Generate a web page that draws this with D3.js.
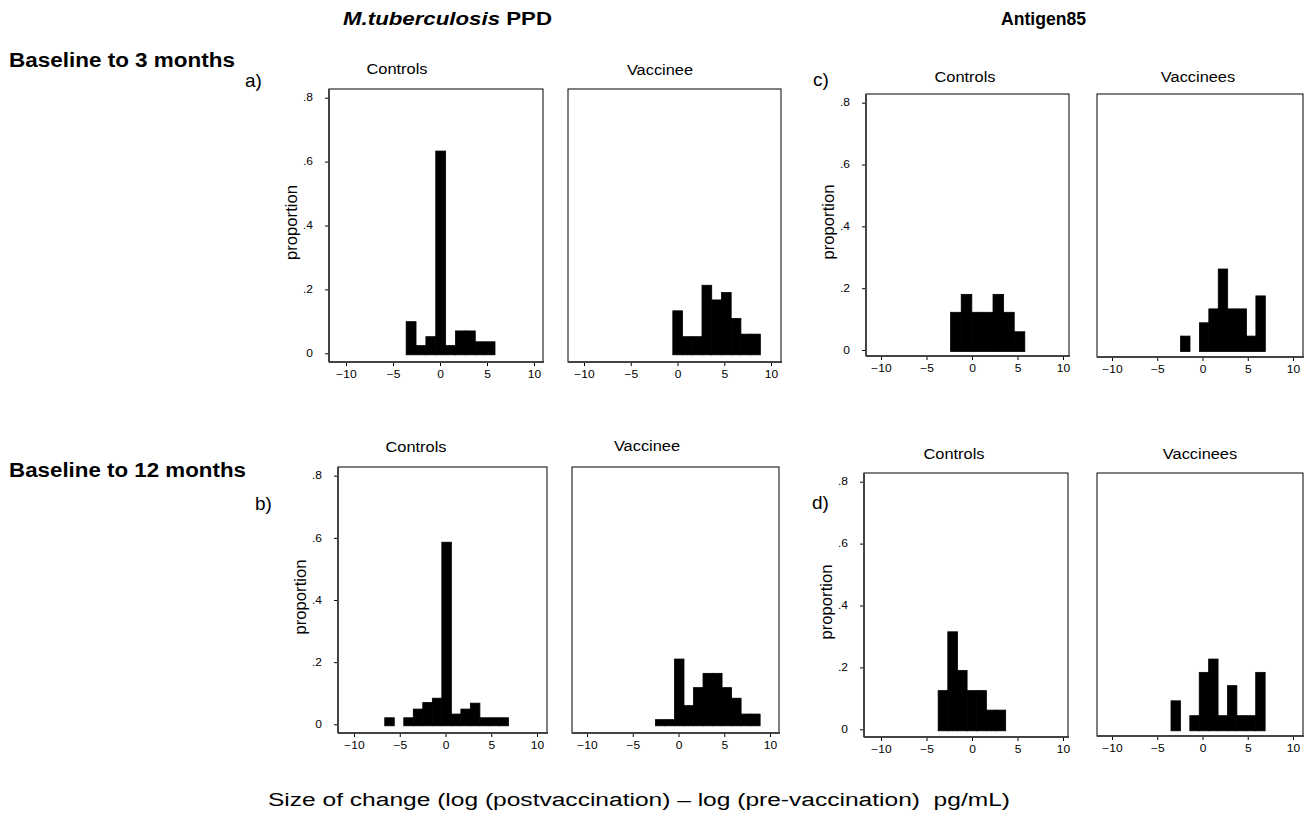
<!DOCTYPE html>
<html>
<head>
<meta charset="utf-8">
<script src="https://cdn.jsdelivr.net/npm/d3@7"></script>
<style>
  body { margin: 0; background: #fff; }
  text { font-family: "Liberation Sans", Arial, sans-serif; fill: #000; }
</style>
</head>
<body>
<svg id="chart" width="1310" height="817"></svg>
<script>
// tick values and labels
const xTicks = [-10, -5, 0, 5, 10];
const yTicks = [0, 0.2, 0.4, 0.6, 0.8];
const yTickLabels = ['0', '.2', '.4', '.6', '.8'];

// histogram bins: first edge, bin width, proportion per bin
const aControlsStart = -3.6, aControlsWidth = 1.05;
const aControls = [0.099, 0.024, 0.052, 0.633, 0.024, 0.07, 0.07, 0.036, 0.036];
const aVaccineeStart = -0.5, aVaccineeWidth = 1.04;
const aVaccinee = [0.133, 0.052, 0.052, 0.213, 0.167, 0.19, 0.109, 0.06, 0.06];

const bControlsStart = -6.64, bControlsWidth = 1.04;
const bControls = [0.021, 0, 0.021, 0.049, 0.07, 0.084, 0.586, 0.033, 0.049, 0.068, 0.021, 0.021, 0.021];
const bVaccineeStart = -2.52, bVaccineeWidth = 1.04;
const bVaccinee = [0.015, 0.015, 0.21, 0.06, 0.118, 0.164, 0.164, 0.118, 0.084, 0.033, 0.033];

const cControlsStart = -2.35, cControlsWidth = 1.165;
const cControls = [0.122, 0.18, 0.122, 0.122, 0.18, 0.122, 0.059];
const cVaccineesStart = -2.42, cVaccineesWidth = 1.04;
const cVaccinees = [0.045, 0, 0.088, 0.133, 0.262, 0.133, 0.133, 0.045, 0.175];

const dControlsStart = -3.72, dControlsWidth = 1.06;
const dControls = [0.125, 0.315, 0.19, 0.125, 0.125, 0.062, 0.062];
const dVaccineesStart = -3.48, dVaccineesWidth = 1.04;
const dVaccinees = [0.092, 0, 0.044, 0.184, 0.227, 0.044, 0.141, 0.044, 0.044, 0.184];

const svg = d3.select('#chart');

// the original is a little wider than tall, so text gets stretched sideways
function stretch(sel, k) {
  sel.each(function () {
    const w = this.getComputedTextLength();
    this.setAttribute('textLength', w * k);
    this.setAttribute('lengthAdjust', 'spacingAndGlyphs');
  });
}

const panels = [
  { title: 'Controls', vals: aControls, start: aControlsStart, bw: aControlsWidth,
    L: 329, R: 543, T: 89, B: 362, x0: 346, x1: 534, y0: 353.3, y8: 97.7, yLab: true, tx: 397, ty: 74 },
  { title: 'Vaccinee', vals: aVaccinee, start: aVaccineeStart, bw: aVaccineeWidth,
    L: 568, R: 781, T: 89, B: 362, x0: 584, x1: 771, y0: 353.3, y8: 97.7, yLab: false, tx: 660, ty: 75 },
  { title: 'Controls', vals: cControls, start: cControlsStart, bw: cControlsWidth,
    L: 866, R: 1069, T: 94, B: 356, x0: 881, x1: 1063, y0: 350, y8: 102.7, yLab: true, tx: 965, ty: 82 },
  { title: 'Vaccinees', vals: cVaccinees, start: cVaccineesStart, bw: cVaccineesWidth,
    L: 1097, R: 1303, T: 94, B: 357, x0: 1112, x1: 1293, y0: 350, y8: 102.7, yLab: false, tx: 1198, ty: 82 },
  { title: 'Controls', vals: bControls, start: bControlsStart, bw: bControlsWidth,
    L: 338, R: 547, T: 467, B: 733, x0: 354, x1: 537, y0: 724.3, y8: 475.7, yLab: true, tx: 416, ty: 452 },
  { title: 'Vaccinee', vals: bVaccinee, start: bVaccineeStart, bw: bVaccineeWidth,
    L: 572, R: 779, T: 467, B: 733, x0: 587, x1: 770, y0: 724.3, y8: 475.7, yLab: false, tx: 647, ty: 451 },
  { title: 'Controls', vals: dControls, start: dControlsStart, bw: dControlsWidth,
    L: 864, R: 1068, T: 473, B: 737, x0: 881, x1: 1063, y0: 729.3, y8: 481.7, yLab: true, tx: 954, ty: 459 },
  { title: 'Vaccinees', vals: dVaccinees, start: dVaccineesStart, bw: dVaccineesWidth,
    L: 1097, R: 1303, T: 473, B: 736, x0: 1112, x1: 1293, y0: 729.3, y8: 481.7, yLab: false, tx: 1200, ty: 459 }
];

panels.forEach(p => {
  const x = d3.scaleLinear().domain([-10, 10]).range([p.x0, p.x1]);
  const y = d3.scaleLinear().domain([0, 0.8]).range([p.y0, p.y8]);
  const g = svg.append('g');

  // frame
  g.append('rect')
    .attr('x', p.L).attr('y', p.T)
    .attr('width', p.R - p.L).attr('height', p.B - p.T)
    .attr('fill', 'none').attr('stroke', '#000').attr('stroke-width', 1);

  // bars (stroked so neighbouring bins merge into one solid block)
  g.selectAll('rect.bar')
    .data(p.vals.map((v, i) => ({ lo: p.start + i * p.bw, v: v })).filter(d => d.v > 0))
    .enter()
    .append('rect')
    .attr('class', 'bar')
    .attr('x', d => x(d.lo))
    .attr('width', x(p.bw) - x(0))
    .attr('y', d => y(d.v))
    .attr('height', d => y(0) + 1.5 - y(d.v))
    .attr('fill', '#000')
    .attr('stroke', '#000')
    .attr('stroke-width', 0.8);

  // x axis
  const xa = g.append('g')
    .attr('transform', `translate(0, ${p.B})`)
    .call(d3.axisBottom(x).tickValues(xTicks).tickSize(4).tickPadding(5));
  xa.select('.domain').remove();
  xa.selectAll('text').attr('font-size', 10).call(stretch, 1.2);
  g.append('line')
    .attr('x1', p.L).attr('x2', p.R + 1).attr('y1', p.B).attr('y2', p.B)
    .attr('stroke', '#444').attr('stroke-width', 2);

  // y axis
  if (p.yLab) {
    const ya = g.append('g')
      .attr('transform', `translate(${p.L}, 0)`)
      .call(d3.axisLeft(y).tickValues(yTicks).tickFormat((d, i) => yTickLabels[i]).tickSize(4).tickPadding(12));
    ya.select('.domain').remove();
    ya.selectAll('text').attr('font-size', 10).call(stretch, 1.2);
    g.append('line')
      .attr('x1', p.L).attr('x2', p.L).attr('y1', p.T).attr('y2', p.B)
      .attr('stroke', '#444').attr('stroke-width', 2);

    g.append('text')
      .attr('transform', `translate(${p.L - 32}, ${(p.T + p.B) / 2 - 3}) rotate(-90)`)
      .attr('text-anchor', 'middle')
      .attr('font-size', 16)
      .attr('textLength', 75).attr('lengthAdjust', 'spacingAndGlyphs')
      .text('proportion');
  }

  // panel title
  g.append('text')
    .attr('x', p.tx).attr('y', p.ty)
    .attr('text-anchor', 'middle')
    .attr('font-size', 14)
    .text(p.title)
    .call(stretch, 1.17);
});

// column headings
const colTitle1 = svg.append('text')
  .attr('x', 343).attr('y', 25)
  .attr('font-size', 19).attr('font-weight', 'bold');
colTitle1.append('tspan').attr('font-style', 'italic').text('M.tuberculosis');
colTitle1.append('tspan').text(' PPD');
colTitle1.attr('textLength', 209).attr('lengthAdjust', 'spacingAndGlyphs');

svg.append('text')
  .attr('x', 1001).attr('y', 25)
  .attr('font-size', 19).attr('font-weight', 'bold')
  .attr('textLength', 85).attr('lengthAdjust', 'spacingAndGlyphs')
  .text('Antigen85');

// row headings
svg.append('text')
  .attr('x', 9).attr('y', 67)
  .attr('font-size', 20).attr('font-weight', 'bold')
  .attr('textLength', 226).attr('lengthAdjust', 'spacingAndGlyphs')
  .text('Baseline to 3 months');

svg.append('text')
  .attr('x', 9).attr('y', 477)
  .attr('font-size', 20).attr('font-weight', 'bold')
  .attr('textLength', 237).attr('lengthAdjust', 'spacingAndGlyphs')
  .text('Baseline to 12 months');

// panel letters
const letters = [['a)', 245, 87], ['b)', 255, 510], ['c)', 813, 86], ['d)', 812, 509]];
letters.forEach(l => {
  svg.append('text')
    .attr('x', l[1]).attr('y', l[2])
    .attr('font-family', '"Liberation Serif", "Times New Roman", serif')
    .attr('font-size', 19)
    .text(l[0]);
});

// shared x label
svg.append('text')
  .attr('x', 268).attr('y', 806)
  .attr('font-size', 18)
  .attr('textLength', 742).attr('lengthAdjust', 'spacingAndGlyphs')
  .text('Size of change (log (postvaccination) \u2013 log (pre-vaccination)\u00a0 pg/mL)');
</script>
</body>
</html>
